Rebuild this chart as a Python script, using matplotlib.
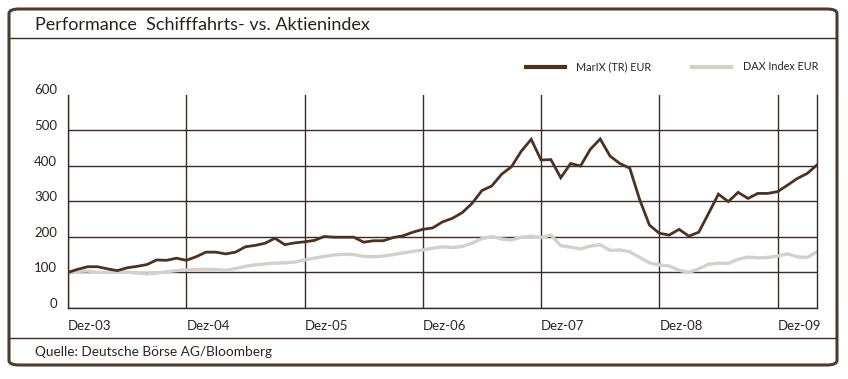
import numpy as np
import matplotlib
matplotlib.use("Agg")
import matplotlib.pyplot as plt
from matplotlib.patches import FancyBboxPatch
from matplotlib.lines import Line2D
from matplotlib.transforms import ScaledTranslation

# Monatswerte Dez-03 .. Apr-10 (Index, Dez-03 = 100)
marix = [100, 109, 116, 116, 110, 105, 113, 117, 122, 135, 134, 140, 134,
         144, 157, 157, 152, 157, 172, 176, 182, 196, 178, 183, 186,
         190, 201, 199, 199, 199, 185, 189, 189, 198, 203, 213, 221,
         225, 242, 252, 268, 294, 330, 343, 376, 397, 441, 474, 416,
         417, 366, 406, 399, 446, 475, 427, 406, 393, 305, 233, 210,
         205, 221, 202, 213, 266, 320, 299, 325, 308, 322, 322, 327,
         345, 364, 378, 402]
dax = [100, 103, 104, 100, 100, 103, 101, 98, 96, 98, 102, 105, 107,
       108, 109, 108, 106, 111, 117, 121, 124, 126, 127, 129, 135,
       140, 145, 149, 151, 150, 145, 144, 146, 150, 155, 159, 163,
       168, 172, 170, 173, 182, 195, 201, 194, 191, 199, 202, 198,
       205, 175, 171, 166, 174, 178, 162, 163, 158, 142, 127, 121,
       118, 106, 100, 110, 123, 126, 125, 137, 143, 141, 142, 146,
       152, 144, 142, 158]
x_labels = ["Dez-03", "Dez-04", "Dez-05", "Dez-06", "Dez-07", "Dez-08", "Dez-09"]
y_ticks = [0, 100, 200, 300, 400, 500, 600]
series_names = ["MarIX (TR) EUR", "DAX Index EUR"]

FONT = ["Lato", "DejaVu Sans"]
DARK = "#3b2d25"
BROWN = "#4b3222"
GREY = "#d4d0cb"

W, H = 848, 379
fig = plt.figure(figsize=(W / 100, H / 100), dpi=100)
plt.rcParams["font.family"] = FONT

def fx(px):
    return px / W

def fy(py):
    return 1 - py / H

# Rahmen, Titel- und Quellenlinie
frame = FancyBboxPatch((fx(9), fy(365)), fx(828), 356 / H,
                       boxstyle="round,pad=0,rounding_size=0.012",
                       transform=fig.transFigure, fill=False,
                       ec="#4a3c32", lw=2.2)
fig.patches.append(frame)
fig.lines.append(Line2D([fx(10), fx(836)], [fy(38), fy(38)],
                        transform=fig.transFigure, color=DARK, lw=1.0))
fig.lines.append(Line2D([fx(10), fx(836)], [fy(338), fy(338)],
                        transform=fig.transFigure, color=DARK, lw=1.0))

fig.text(fx(35), fy(25), "Performance  Schifffahrts- vs. Aktienindex",
         fontsize=13.0, color="#2a201c", va="center", ha="left")
fig.text(fx(35), fy(352), "Quelle: Deutsche Börse AG/Bloomberg",
         fontsize=9.8, color="#2e2420", va="center", ha="left")

# Diagramm
ax = fig.add_axes([fx(68), fy(308), fx(817 - 68), (308 - 94.5) / H])
months = np.arange(len(marix))
ax.plot(months, marix, color=BROWN, lw=2.0, label=series_names[0],
        solid_joinstyle="miter", zorder=3)
ax.plot(months, dax, color=GREY, lw=2.4, label=series_names[1], zorder=2)

ax.set_xlim(0, len(marix) - 1)
ax.set_ylim(0, 600)
ax.set_xticks(np.arange(0, 73, 12))
ax.set_xticklabels(x_labels)
ax.set_yticks(y_ticks)
ax.tick_params(length=0, labelsize=9.5, labelcolor="#2e2420")
ax.tick_params(axis="y", pad=8)
ax.tick_params(axis="x", pad=9)
for lbl in ax.get_xticklabels():
    lbl.set_ha("left")
off = ScaledTranslation(0, 5 / 100, fig.dpi_scale_trans)
for lbl in ax.get_yticklabels():
    lbl.set_transform(lbl.get_transform() + off)

ax.grid(True, color=DARK, lw=1.0)
ax.get_ygridlines()[-1].set_visible(False)
ax.set_axisbelow(True)
for side in ["left", "right", "bottom"]:
    ax.spines[side].set_color(DARK)
    ax.spines[side].set_linewidth(1.0)
ax.spines["top"].set_visible(False)

leg = ax.legend(ncol=2, frameon=False, fontsize=7.8,
                loc="center right", bbox_to_anchor=(fx(818), fy(67)),
                bbox_transform=fig.transFigure, borderpad=0,
                borderaxespad=0, handlelength=3.6, handletextpad=1.1,
                columnspacing=3.7, labelcolor="#2e2420")
for h in leg.get_lines():
    h.set_linewidth(3.0)

fig.savefig("out.png", dpi=100, facecolor="white")
